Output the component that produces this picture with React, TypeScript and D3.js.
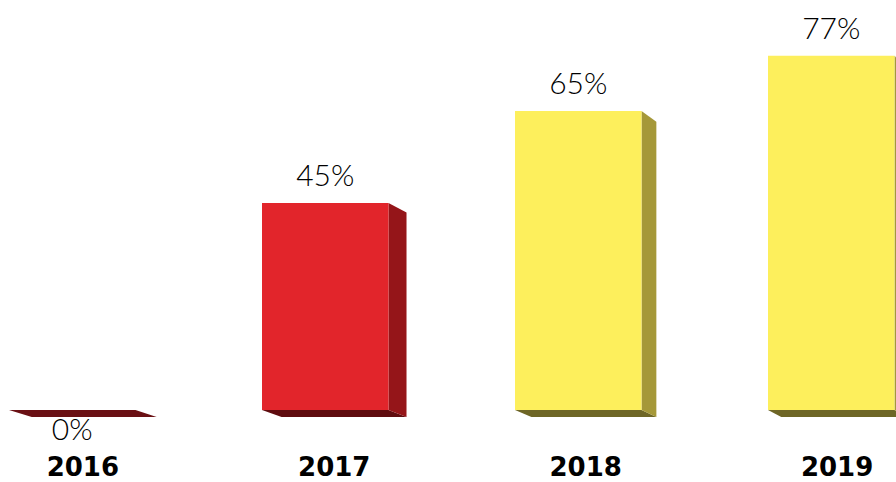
import React from "react";
import * as d3 from "d3";

const categories = ["2016", "2017", "2018", "2019"];
const values = [0, 45, 65, 77];
const valueLabels = ["0%", "45%", "65%", "77%"];
const frontColors = ["#e2252b", "#e2252b", "#fdef5c", "#fdef5c"];
const sideColors = ["#951519", "#951519", "#a59839", "#a59839"];
const bottomColors = ["#6a1014", "#5f0c0f", "#6e6626", "#6e6626"];

const W = 896;
const H = 482;
const VP: [number, number] = [1830, 970];
const K = 0.0125;

function back(p: [number, number]): [number, number] {
  return [p[0] + K * (VP[0] - p[0]), p[1] + K * (VP[1] - p[1])];
}

function poly(pts: [number, number][]) {
  return pts.map((p) => p.join(",")).join(" ");
}

export default function App() {
  const x = d3
    .scaleBand<string>()
    .domain(categories)
    .range([9, 9 + 253 * 3.5])
    .paddingInner(0.5)
    .paddingOuter(0)
    .align(0);
  const y = d3.scaleLinear().domain([0, 100]).range([410, -50]);
  const bw = x.bandwidth();

  return (
    <svg
      width={W}
      height={H}
      style={{ position: "absolute", left: 0, top: 0, background: "#fff" }}
    >
      {categories.map((c, i) => {
        const x0 = x(c)!;
        const x1 = x0 + bw;
        const yb = y(0);
        const yt = y(values[i]);
        const fbl: [number, number] = [x0, yb];
        const fbr: [number, number] = [x1, yb];
        const ftl: [number, number] = [x0, yt];
        const ftr: [number, number] = [x1, yt];
        const bbl = back(fbl);
        const bbr = back(fbr);
        const btr = back(ftr);
        const cx = (x0 + x1) / 2;
        const yearX = (x0 + bbr[0]) / 2;
        const labelY = values[i] === 0 ? yb + 30 : yt - 17;
        return (
          <g key={c}>
            <polygon points={poly([fbl, fbr, bbr, bbl])} fill={bottomColors[i]} />
            {values[i] > 0 && (
              <polygon points={poly([ftr, btr, bbr, fbr])} fill={sideColors[i]} />
            )}
            {values[i] > 0 && (
              <polygon points={poly([ftl, ftr, fbr, fbl])} fill={frontColors[i]} />
            )}
            <text
              x={cx}
              y={labelY}
              textAnchor="middle"
              fontFamily="Lato, 'Open Sans', sans-serif"
              fontWeight={300}
              fontSize={30}
              fill="#000"
            >
              {valueLabels[i]}
            </text>
            <text
              x={yearX}
              y={476}
              textAnchor="middle"
              fontFamily="'DejaVu Sans', sans-serif"
              fontWeight={700}
              fontSize={26}
              fill="#000"
            >
              {c}
            </text>
          </g>
        );
      })}
    </svg>
  );
}
